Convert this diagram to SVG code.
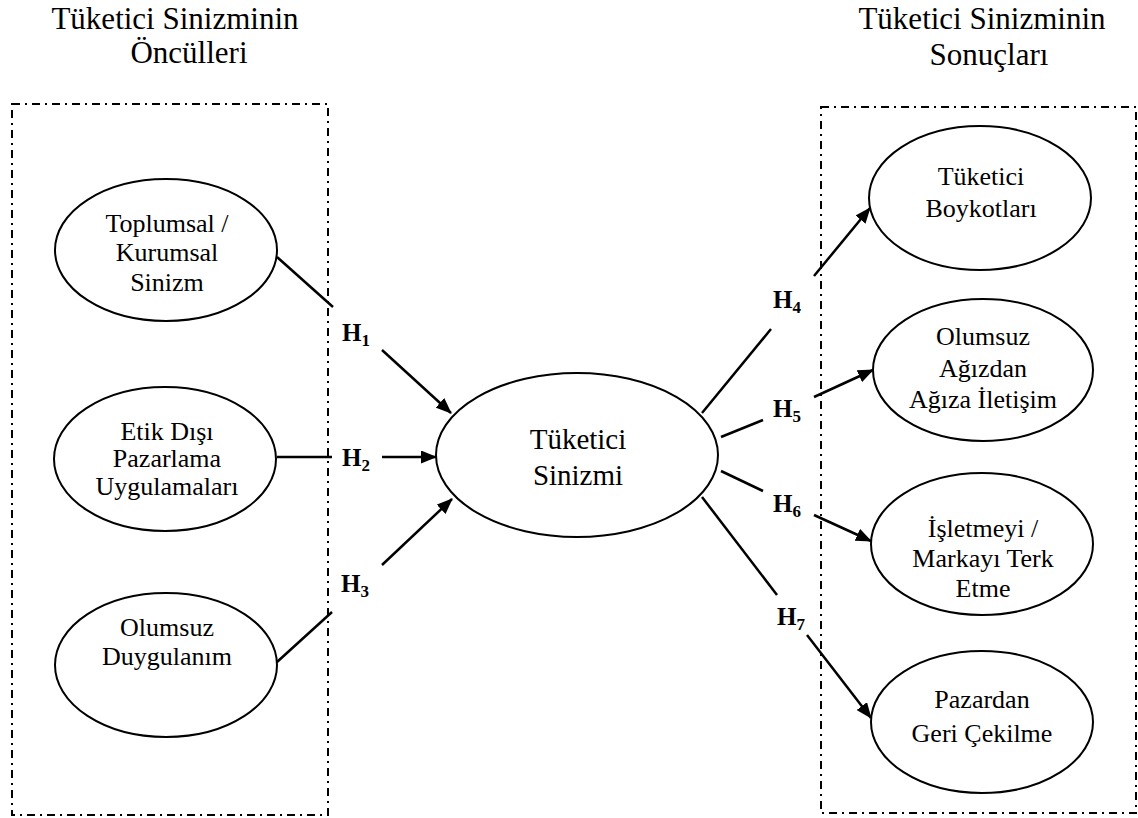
<svg xmlns="http://www.w3.org/2000/svg" width="1138" height="818" viewBox="0 0 1138 818">
<style>
text{font-family:"Liberation Serif","Times New Roman",serif;fill:#000;text-anchor:middle}
.title{font-size:31px}
.nt{font-size:26px}
.ct{font-size:29px}
.h{font-size:25px;font-weight:bold;text-anchor:start}
.sub{font-size:17px}
.node ellipse{fill:#fff;stroke:#000;stroke-width:2}
.box{fill:none;stroke:#000;stroke-width:2;stroke-dasharray:8 5 2 5}
.conn line{stroke:#000;stroke-width:2.5}
.arr{marker-end:url(#ah)}
</style>
<defs>
<marker id="ah" markerUnits="userSpaceOnUse" viewBox="0 0 16 13" markerWidth="16" markerHeight="13" refX="15" refY="6.5" orient="auto">
<path d="M0,0 L16,6.5 L0,13 z" fill="#000"/>
</marker>
</defs>
<rect width="1138" height="818" fill="#fff"/>

<g id="title-left">
<text class="title" x="175" y="29">Tüketici Sinizminin</text>
<text class="title" x="189" y="63">Öncülleri</text>
</g>
<g id="title-right">
<text class="title" x="982" y="29">Tüketici Sinizminin</text>
<text class="title" x="989" y="65">Sonuçları</text>
</g>

<rect id="box-left" class="box" x="12" y="104" width="316" height="711"/>
<rect id="box-right" class="box" x="821" y="107" width="315" height="706"/>

<g id="connectors" class="conn">
<line x1="277" y1="257" x2="333" y2="307"/>
<line class="arr" x1="382" y1="350" x2="451" y2="413"/>
<line x1="277" y1="457" x2="332" y2="457"/>
<line class="arr" x1="382" y1="457" x2="436" y2="457"/>
<line x1="277" y1="662" x2="332" y2="612"/>
<line class="arr" x1="382" y1="565" x2="452" y2="499"/>
<line x1="702" y1="413" x2="771" y2="329"/>
<line class="arr" x1="814" y1="276" x2="870" y2="208"/>
<line x1="721" y1="437" x2="763" y2="420"/>
<line class="arr" x1="814" y1="397" x2="873" y2="370"/>
<line x1="721" y1="471" x2="763" y2="491"/>
<line class="arr" x1="814" y1="515" x2="871" y2="541"/>
<line x1="702" y1="497" x2="777" y2="595"/>
<line class="arr" x1="807" y1="635" x2="871" y2="718"/>
</g>

<g id="labels">
<text class="h" x="342" y="341">H<tspan class="sub" dy="5">1</tspan></text>
<text class="h" x="342" y="466">H<tspan class="sub" dy="5">2</tspan></text>
<text class="h" x="341" y="592">H<tspan class="sub" dy="5">3</tspan></text>
<text class="h" x="773" y="308">H<tspan class="sub" dy="5">4</tspan></text>
<text class="h" x="773" y="417">H<tspan class="sub" dy="5">5</tspan></text>
<text class="h" x="773" y="512">H<tspan class="sub" dy="5">6</tspan></text>
<text class="h" x="777" y="625">H<tspan class="sub" dy="5">7</tspan></text>
</g>

<g id="n-toplumsal" class="node">
<ellipse cx="166" cy="250" rx="111" ry="71"/>
<text class="nt" x="167" y="232">Toplumsal /</text>
<text class="nt" x="167" y="261">Kurumsal</text>
<text class="nt" x="167" y="291">Sinizm</text>
</g>
<g id="n-etik" class="node">
<ellipse cx="165" cy="459" rx="111" ry="72"/>
<text class="nt" x="167" y="440">Etik Dışı</text>
<text class="nt" x="167" y="467">Pazarlama</text>
<text class="nt" x="167" y="495">Uygulamaları</text>
</g>
<g id="n-duygu" class="node">
<ellipse cx="166" cy="665" rx="111" ry="72"/>
<text class="nt" x="167" y="636">Olumsuz</text>
<text class="nt" x="167" y="665">Duygulanım</text>
</g>
<g id="n-center" class="node">
<ellipse cx="577" cy="455" rx="141" ry="82"/>
<text class="ct" x="578" y="449">Tüketici</text>
<text class="ct" x="578" y="485">Sinizmi</text>
</g>
<g id="n-boykot" class="node">
<ellipse cx="980" cy="198" rx="111" ry="72"/>
<text class="nt" x="981" y="185">Tüketici</text>
<text class="nt" x="981" y="217">Boykotları</text>
</g>
<g id="n-agiz" class="node">
<ellipse cx="983" cy="370" rx="110" ry="71"/>
<text class="nt" x="983" y="345">Olumsuz</text>
<text class="nt" x="983" y="377">Ağızdan</text>
<text class="nt" x="983" y="408">Ağıza İletişim</text>
</g>
<g id="n-terk" class="node">
<ellipse cx="982" cy="544" rx="111" ry="71"/>
<text class="nt" x="983" y="537">İşletmeyi /</text>
<text class="nt" x="983" y="567">Markayı Terk</text>
<text class="nt" x="983" y="597">Etme</text>
</g>
<g id="n-pazar" class="node">
<ellipse cx="982" cy="722" rx="111" ry="71"/>
<text class="nt" x="982" y="708">Pazardan</text>
<text class="nt" x="982" y="742">Geri Çekilme</text>
</g>
</svg>
